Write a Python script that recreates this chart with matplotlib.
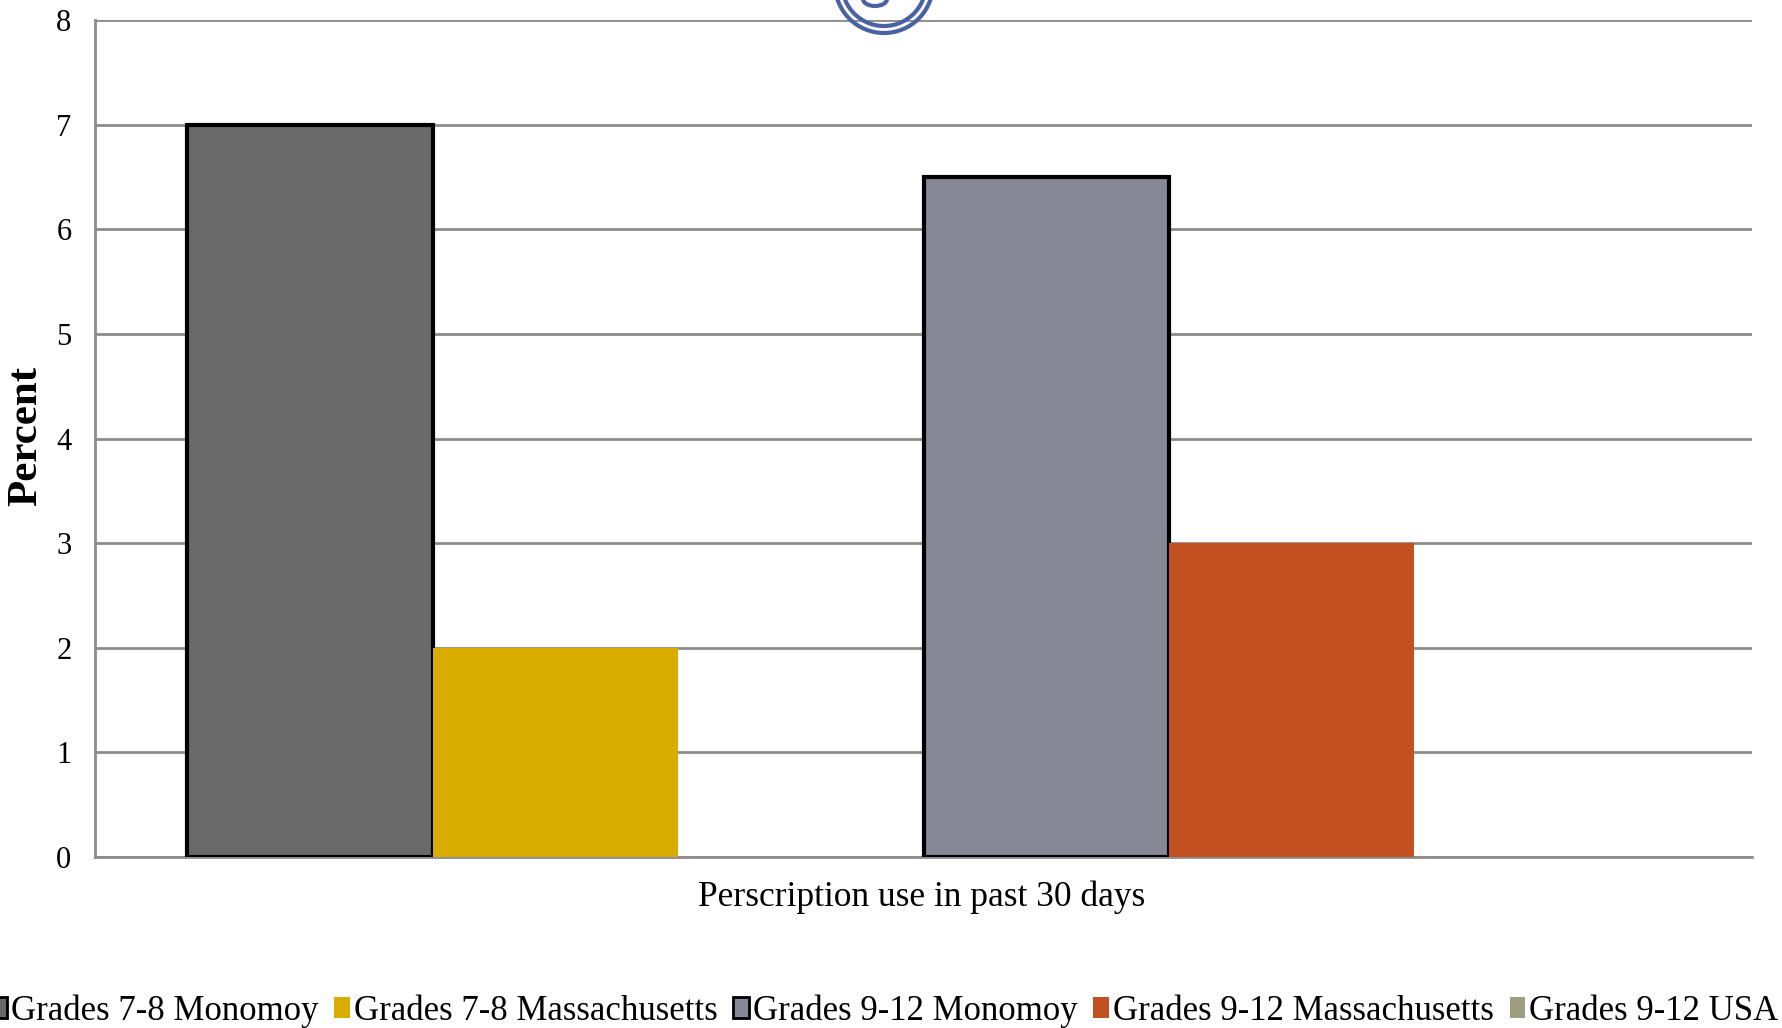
import matplotlib
matplotlib.use("Agg")
import matplotlib.pyplot as plt
from matplotlib.patches import Patch, Ellipse, Arc

# ---- data ----
category = "Perscription use in past 30 days"
series_names = ["Grades 7-8 Monomoy", "Grades 7-8 Massachusetts",
                "Grades 9-12 Monomoy", "Grades 9-12 Massachusetts",
                "Grades 9-12 USA"]
series_values = [7.0, 2.0, 6.5, 3.0, 0.0]
# slot index inside the category (slot 2 is an empty series slot)
series_slots = [0, 1, 3, 4, 5]
n_slots = 6
y_ticks = [0, 1, 2, 3, 4, 5, 6, 7, 8]

colors = ["#696969", "#D8AD00", "#878896", "#C35020", "#A09E80"]
edges = ["black", None, "black", None, None]

plt.rcParams["font.family"] = ["Liberation Serif", "DejaVu Serif"]

W, H = 1783, 1028
fig = plt.figure(figsize=(W/100, H/100), dpi=100)
ax = fig.add_axes([95/W, 1-857/H, (1752-95)/W, (857-20)/H])

bar_w = 245.4/1657
start = -bar_w*n_slots/2
for name, v, s, c, e in zip(series_names, series_values, series_slots, colors, edges):
    x = start + bar_w*(s+0.5)
    if e:
        ax.bar(x, v, width=bar_w, color=c, edgecolor=e, linewidth=3, zorder=3)
    else:
        ax.bar(x, v, width=bar_w, color=c, linewidth=0, zorder=3)

ax.set_xlim(-0.5, 0.5)
ax.set_ylim(0, 8)
ax.set_yticks(y_ticks)
ax.set_yticklabels([str(t) for t in y_ticks], fontsize=22)
ax.set_xticks([])
ax.tick_params(axis="y", length=0, pad=17)
ax.yaxis.grid(True, color="#8c8c8c", linewidth=2, zorder=0)
ax.set_axisbelow(True)
for sp in ["top", "right"]:
    ax.spines[sp].set_visible(False)
for sp in ["bottom", "left"]:
    ax.spines[sp].set_color("#8c8c8c")
    ax.spines[sp].set_linewidth(2)

fig.text(26/W, 1-436/H, "Percent", rotation=90, ha="center", va="center",
         fontsize=31, fontweight="bold")
fig.text(922/W, 1-897/H, category, ha="center", va="center", fontsize=25.5)

handles = [Patch(facecolor=c, edgecolor=(e if e else c), linewidth=2 if e else 0)
           for c, e in zip(colors, edges)]
fig.legend(handles, series_names, loc="center", bbox_to_anchor=(885/W, 1-1011/H),
           ncol=5, frameon=False, fontsize=25, handlelength=0.45, handleheight=0.55,
           handletextpad=0.12, columnspacing=0.45, borderaxespad=0)

# partial logo at top
for r in (49, 42):
    fig.add_artist(Ellipse((884/W, 1+16/H), 2*r/W, 2*r/H, transform=fig.transFigure,
                           fill=False, edgecolor="#4A62A4", linewidth=3, zorder=10,
                           clip_on=False))
fig.add_artist(Arc((875/W, 1+1/H), 24/W, 14/H, theta1=180, theta2=360,
                   transform=fig.transFigure, edgecolor="#4A62A4", linewidth=3,
                   zorder=10, clip_on=False))

fig.savefig("out.png", dpi=100)
